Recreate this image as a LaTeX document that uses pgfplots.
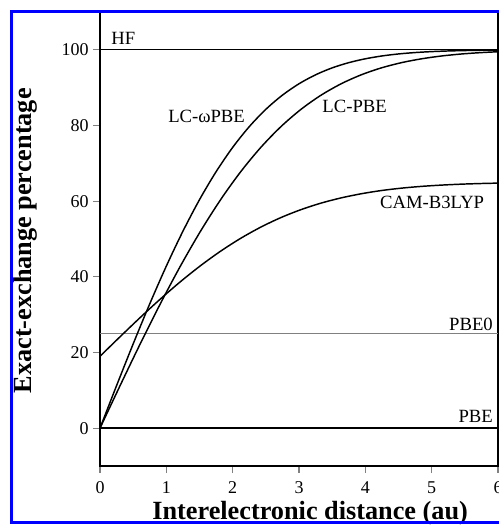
\documentclass[border=0pt]{standalone}
\usepackage{pgfplots}
\pgfplotsset{compat=1.18}
\usepackage{fontspec}
\setmainfont{Liberation Serif}
\begin{document}
\begin{tikzpicture}
\path[use as bounding box] (0,0) rectangle (374.25pt,393.75pt);
\clip (0,0) rectangle (374.25pt,393.75pt);
\begin{axis}[
  at={(75pt,44.25pt)}, anchor=south west,
  scale only axis, width=298.5pt, height=340.5pt,
  xmin=0, xmax=6, ymin=-10, ymax=110,
  xtick={0,1,2,3,4,5,6}, ytick={0,20,40,60,80,100},
  xtick pos=bottom, ytick pos=left,
  tick align=outside, major tick length=5pt,
  tick style={gray, line width=0.8pt},
  axis line style={black, line width=1pt},
  /pgf/number format/assume math mode=true,
  ticklabel style={font=\fontsize{13.5}{15}\selectfont},
  xticklabel style={yshift=-3pt},
  xlabel={\bfseries Interelectronic distance (au)},
  ylabel={\bfseries Exact-exchange percentage},
  label style={font=\fontsize{19.7}{22}\selectfont\bfseries, inner sep=0pt},
  xlabel style={at={(axis description cs:0.528,-0.118)}, anchor=base},
  ylabel style={at={(axis description cs:-0.173,0.496)}, anchor=base, rotate=0},
  clip=false,
]
\addplot[black, line width=1pt] coordinates {(0,100) (6,100)};
\addplot[gray, line width=1.1pt] coordinates {(0,25) (6,25)};
\addplot[black, line width=1pt] coordinates {(0,0) (6,0)};
\addplot[black, line width=1.1pt, smooth] coordinates {
(0,0) (0.25,11.25) (0.5,22.27) (0.75,32.86) (1,42.84) (1.25,52.05) (1.5,60.39) (1.75,67.78) (2,74.21) (2.25,79.69) (2.5,84.27) (2.75,88.02) (3,91.03) (3.25,93.40) (3.5,95.23) (3.75,96.61) (4,97.63) (4.25,98.38) (4.5,98.91) (4.75,99.28) (5,99.53) (5.25,99.70) (5.5,99.81) (5.75,99.89) (6,99.93)};
\addplot[black, line width=1.1pt, smooth] coordinates {
(0,0) (0.303,11.25) (0.606,22.27) (0.909,32.86) (1.212,42.84) (1.515,52.05) (1.818,60.39) (2.121,67.78) (2.424,74.21) (2.727,79.69) (3.030,84.27) (3.333,88.02) (3.636,91.03) (3.939,93.40) (4.242,95.23) (4.545,96.61) (4.848,97.63) (5.152,98.38) (5.455,98.91) (5.758,99.28) (6,99.49)};
\addplot[black, line width=1.1pt, smooth] coordinates {
(0,19) (0.303,24.17) (0.606,29.24) (0.909,34.12) (1.212,38.71) (1.515,42.94) (1.818,46.78) (2.121,50.18) (2.424,53.14) (2.727,55.66) (3.030,57.76) (3.333,59.49) (3.636,60.87) (3.939,61.96) (4.242,62.81) (4.545,63.44) (4.848,63.91) (5.152,64.25) (5.455,64.50) (5.758,64.67) (6,64.77)};
\begin{scope}[every node/.style={font=\fontsize{14}{16}\selectfont, inner sep=0pt}]
\node[anchor=base west] at (axis cs:0.166,101.5) {HF};
\node[anchor=base west] at (axis cs:1.025,80.8) {LC-ωPBE};
\node[anchor=base west] at (axis cs:3.35,83.5) {LC-PBE};
\node[anchor=base west] at (axis cs:4.22,58.1) {CAM-B3LYP};
\node[anchor=base east] at (axis cs:5.925,25.9) {PBE0};
\node[anchor=base east] at (axis cs:5.925,1.6) {PBE};
\end{scope}
\end{axis}
\draw[color={rgb,255:red,0;green,0;blue,255}, line width=2.25pt] (400pt,385.125pt) -- (8.625pt,385.125pt) -- (8.625pt,1.875pt) -- (400pt,1.875pt);
\end{tikzpicture}
\end{document}
